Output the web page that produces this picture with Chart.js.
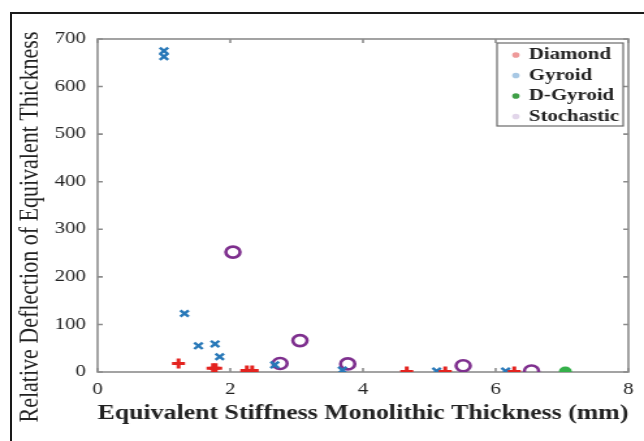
<!DOCTYPE html>
<html>
<head>
<meta charset="utf-8">
<script src="https://cdn.jsdelivr.net/npm/chart.js@4.4.1/dist/chart.umd.min.js"></script>
<style>
  html, body { margin: 0; padding: 0; background: #fff; overflow: hidden; }
  #frame { position: absolute; left: 10px; top: 12px; width: 700px; height: 500px;
           border-left: 2px solid #1a1a1a; border-top: 2px solid #1a1a1a; }
  /* the source figure is stretched sideways, so the chart is too */
  #wrap { position: absolute; left: 0; top: 0; width: 495px; height: 441px;
          transform: scaleX(1.301); transform-origin: 0 0; }
</style>
</head>
<body>
<div id="frame"></div>
<div id="wrap"><canvas id="chart" width="495" height="441"></canvas></div>
<script>
const seriesNames = ["Diamond", "Gyroid", "D-Gyroid", "Stochastic"];

const diamondX = [1.22, 1.74, 1.78, 2.25, 2.33, 4.66, 5.24, 6.28];
const diamondY = [18, 8, 8, 3, 3, 1, 1, 1];

const gyroidX = [1.0, 1.0, 1.31, 1.52, 1.77, 1.84, 2.67, 3.69, 5.11, 6.15];
const gyroidY = [675, 663, 123, 55, 59, 32, 15, 4, 2, 2];

const dGyroidX = [7.05];
const dGyroidY = [1];

const stochasticX = [2.04, 2.75, 3.05, 3.77, 5.51, 6.54];
const stochasticY = [252, 18, 66, 17, 13, 2];

const xTicks = [0, 2, 4, 6, 8];
const yTicks = [0, 100, 200, 300, 400, 500, 600, 700];

const xTitle = "Equivalent Stiffness Monolithic Thickness (mm)";
const yTitle = "Relative Deflection of Equivalent Thickness";

const legendDots = ["#ee9a9a", "#a8c8e4", "#3f9f47", "#e2d6ea"];

const toPoints = (xs, ys) => xs.map((x, i) => ({ x: x, y: ys[i] }));

const serif = "'Liberation Serif', 'DejaVu Serif', serif";

// plot box with inward ticks on all four sides
const frameBox = {
  id: "frameBox",
  beforeDatasetsDraw(chart) {
    const { ctx, chartArea: a, scales } = chart;
    ctx.save();
    ctx.strokeStyle = "#8c8c8c";
    ctx.lineWidth = 1.6;
    ctx.strokeRect(a.left, a.top, a.right - a.left, a.bottom - a.top);
    ctx.beginPath();
    scales.x.ticks.forEach((t) => {
      const px = scales.x.getPixelForValue(t.value);
      ctx.moveTo(px, a.bottom); ctx.lineTo(px, a.bottom - 4);
      ctx.moveTo(px, a.top); ctx.lineTo(px, a.top + 4);
    });
    scales.y.ticks.forEach((t) => {
      const py = scales.y.getPixelForValue(t.value);
      ctx.moveTo(a.left, py); ctx.lineTo(a.left + 4, py);
      ctx.moveTo(a.right, py); ctx.lineTo(a.right - 4, py);
    });
    ctx.stroke();
    ctx.restore();
  },
  afterLayout(chart) {
    const lg = chart.legend, a = chart.chartArea;
    lg.left = a.right - 93;
    lg.right = lg.left + lg.width;
    lg.top = a.top + 3.5;
    lg.bottom = lg.top + lg.height;
  },
  afterDraw(chart) {
    const { ctx, chartArea: a } = chart;
    ctx.save();
    // legend frame
    ctx.strokeStyle = "#6a6a6a";
    ctx.lineWidth = 1.2;
    ctx.strokeRect(a.right - 101, a.top + 4, 97, 83);
    // y axis title, centred on the figure rather than the axis
    ctx.fillStyle = "#222";
    ctx.font = "22px " + serif;
    ctx.textAlign = "center";
    ctx.textBaseline = "middle";
    ctx.translate(23, 227);
    ctx.rotate(-Math.PI / 2);
    ctx.fillText(yTitle, 0, 0);
    ctx.restore();
  }
};

new Chart(document.getElementById("chart"), {
  type: "scatter",
  data: {
    datasets: [
      {
        label: seriesNames[0],
        data: toPoints(diamondX, diamondY),
        pointStyle: "cross",
        pointRadius: 5,
        pointBorderWidth: 3,
        borderColor: "#e3231f",
        backgroundColor: "#e3231f",
      },
      {
        label: seriesNames[1],
        data: toPoints(gyroidX, gyroidY),
        pointStyle: "crossRot",
        pointRadius: 4.5,
        pointBorderWidth: 2.4,
        borderColor: "#2878b8",
        backgroundColor: "#2878b8",
      },
      {
        label: seriesNames[2],
        data: toPoints(dGyroidX, dGyroidY),
        pointStyle: "circle",
        pointRadius: 5,
        pointBorderWidth: 0,
        borderColor: "#35b04a",
        backgroundColor: "#35b04a",
      },
      {
        label: seriesNames[3],
        data: toPoints(stochasticX, stochasticY),
        pointStyle: "circle",
        pointRadius: 5.5,
        pointBorderWidth: 2.6,
        borderColor: "#7e2f8e",
        backgroundColor: "rgba(0,0,0,0)",
      },
    ],
  },
  options: {
    responsive: false,
    animation: false,
    layout: { padding: { top: 39, right: 7, left: 0, bottom: 0 } },
    plugins: {
      tooltip: { enabled: false },
      legend: {
        position: "chartArea",
        align: "start",
        labels: {
          usePointStyle: true,
          boxWidth: 4,
          boxHeight: 4,
          padding: 4.5,
          color: "#222",
          font: { family: serif, size: 16, weight: "bold", lineHeight: 1 },
          generateLabels: (chart) =>
            chart.data.datasets.map((ds, i) => ({
              text: ds.label,
              pointStyle: "circle",
              fillStyle: legendDots[i],
              strokeStyle: legendDots[i],
              lineWidth: 0,
              fontColor: "#222",
              datasetIndex: i,
            })),
        },
      },
    },
    scales: {
      x: {
        type: "linear",
        min: 0,
        max: 8,
        afterBuildTicks: (s) => { s.ticks = xTicks.map((v) => ({ value: v })); },
        afterFit: (s) => { s.height = 69; },
        grid: { display: false, drawTicks: false },
        border: { display: false },
        ticks: { color: "#222", padding: 8, font: { family: serif, size: 16 } },
        title: {
          display: true,
          text: xTitle,
          color: "#222",
          padding: { top: 0, bottom: 15 },
          font: { family: serif, size: 20, weight: "bold" },
        },
      },
      y: {
        min: 0,
        max: 700,
        afterBuildTicks: (s) => { s.ticks = yTicks.map((v) => ({ value: v })); },
        afterFit: (s) => { s.width = 75; },
        grid: { display: false, drawTicks: false },
        border: { display: false },
        ticks: { color: "#222", padding: 9, font: { family: serif, size: 16 } },
      },
    },
  },
  plugins: [frameBox],
});
</script>
</body>
</html>
